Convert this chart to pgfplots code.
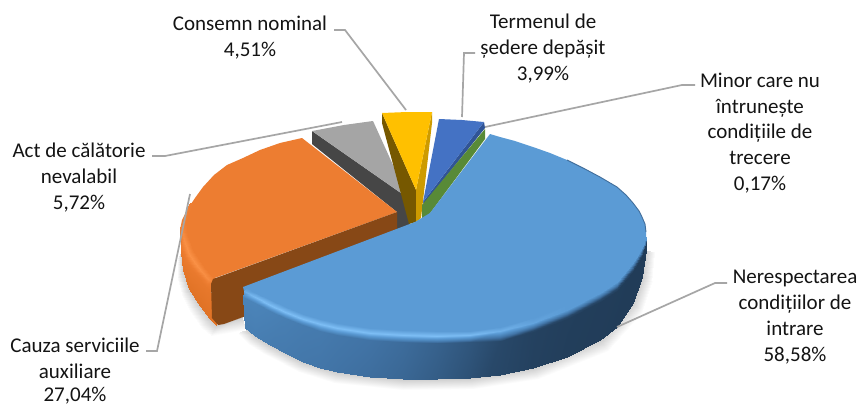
\documentclass[border=0pt]{standalone}
\usepackage{fontspec}
\setmainfont{Carlito}
\usepackage{pgfplots}
\pgfplotsset{compat=1.18}
\definecolor{cBlue}{RGB}{91,155,213}
\definecolor{cOrange}{RGB}{237,125,49}
\definecolor{cCut}{RGB}{135,72,22}
\definecolor{cGray}{RGB}{165,165,165}
\definecolor{cGrayD}{RGB}{70,70,70}
\definecolor{cYel}{RGB}{255,192,0}
\definecolor{cYelD}{RGB}{118,88,0}
\definecolor{cYelR}{RGB}{205,155,0}
\definecolor{cBl2}{RGB}{68,114,196}
\definecolor{cBl2D}{RGB}{48,84,150}
\definecolor{cGreen}{RGB}{88,138,55}
\definecolor{cLead}{RGB}{166,166,166}
\definecolor{cEdge}{RGB}{65,110,155}
\tikzset{lab/.style={anchor=base,text=black!92,font=\fontsize{21}{24}\selectfont}}
\begin{document}
\begin{tikzpicture}
\begin{axis}[
  width=861pt,height=405pt,scale only axis,
  xmin=0,xmax=861,ymin=0,ymax=405,y dir=reverse,
  hide axis,clip=false,
  point meta min=0,point meta max=500,
  colormap={pie}{rgb255(0)=(33,60,88) rgb255(25)=(40,72,105) rgb255(50)=(65,115,165) rgb255(62)=(75,132,185) rgb255(80)=(91,155,213) rgb255(100)=(125,190,245)
    rgb255(200)=(205,105,30) rgb255(250)=(225,115,38) rgb255(280)=(237,125,49) rgb255(300)=(250,145,70)
    rgb255(400)=(205,205,205) rgb255(500)=(255,255,255)},
]
% page
\addplot[draw=none,fill=white] coordinates {(0,0)(861,0)(861,405)(0,405)} --cycle;
% shadows
\addplot[surf,shader=interp,mesh/cols=2,point meta=explicit] table[meta=c] {
x y c
245 328 400
238 334 500
255 336 400
248 344 500
270 345 400
264 354 500
303 362 400
299 372 500
337 372 400
334 383 500
403 379 400
403 390 500
470 378 400
473 389 500
533 368 400
538 379 500
600 340 400
608 351 500
633 303 400
642 313 500
642 277 400
652 283 500
645 250 400
655 252 500
};
\addplot[surf,shader=interp,mesh/cols=2,point meta=explicit] table[meta=c] {
x y c
181 252 400
177 260 500
183 270 400
177 279 500
189 289 400
182 297 500
198 303 400
190 312 500
209 318 400
201 328 500
216 325 400
211 336 500
242 317 400
245 330 500
};
% gray slice
\addplot[draw=none,fill=cGrayD] coordinates {(312,131)(408,198)(410,226)(397,232)(397,212)(312,144)} --cycle;
\addplot[draw=none,fill=cGray] coordinates {(312,131)(344,125)(373,121)(408,198)} --cycle;
% yellow slice
\addplot[draw=none,fill=cYelD] coordinates {(382,113)(382,123)(409,224)(416,222)(416,190)} --cycle;
\addplot[draw=none,fill=cYelR] coordinates {(432,112)(432,123)(421,218)(416,222)(416,190)} --cycle;
\addplot[draw=none,fill=cYel] coordinates {(382,113)(407,112)(432,112)(416,190)} --cycle;
% small blue slice
\addplot[draw=none,fill=cBl2D] coordinates {(484,122)(485,128)(424,204)(423,202)} --cycle;
\addplot[draw=none,fill=cBl2] coordinates {(439,119)(462,120)(484,122)(423,202)} --cycle;
% green slice
\addplot[draw=none,fill=cGreen] coordinates {(485,129)(485,139)(428,216)(422,219)(422,205)} --cycle;
% orange slice
\addplot[draw=none,fill=cOrange] coordinates {(302,138)(280,143)(260,150)(243,158)(227,165)(214,175)(203,187)(195,198)(187,210)(182,220)(180,230)(181,245)(189,254)(195,263)(202,272)(212,279)(397,212)} --cycle;
\addplot[surf,shader=interp,mesh/cols=4,point meta=explicit] table[meta=c] {
x y c
194 203 280
190 203 282
189 204 282
188 206 282
186 222 280
181 225 290
180 228 285
180 230 282
188 236 280
184 240 298
181 245 280
181 252 268
193 250 280
189 254 300
185 259 275
183 270 258
199 259 280
195 263 300
191 269 270
189 289 250
205 268 280
202 272 298
199 278 268
198 303 248
211 275 280
208 279 295
206 287 266
209 318 248
214 278 280
212 281 290
210 290 265
216 325 250
};
\addplot[draw=none,fill=cCut] coordinates {(397,212)(213,279)(211,284)(212,318)(218,325)(224,324)(246,316)(246,287)(397,232)} --cycle;
% big blue slice
\addplot[draw=none,fill=cBlue] coordinates {(243,287)(415,222)(430,213)(490,134)(500,137)(515,141)(533,147)(550,153)(567,160)(585,169)(600,177)(617,187)(626,195)(633,203)(639,211)(642,217)(645,224)(646,232)(646,238)(641,250)(632,264)(617,282)(600,293)(567,310)(533,323)(500,331)(470,335)(437,336)(403,335)(370,333)(337,328)(303,319)(285,312)(270,305)(255,297)(244,291)} --cycle;
\addplot[surf,shader=interp,mesh/cols=4,point meta=explicit] table[meta=c] {
x y c
247 288 80
244 291 90
243 297 62
245 328 58
256 293 80
255 297 98
255 303 62
255 336 58
271 300 80
270 305 100
270 311 60
270 345 56
286 307 80
285 312 100
285 318 58
285 353 55
303 314 80
303 319 100
303 325 56
303 362 53
320 319 80
320 324 100
320 331 55
320 368 52
337 323 80
337 328 100
337 335 53
337 372 50
370 328 80
370 333 100
370 340 50
370 377 47
403 330 80
403 335 100
403 342 46
403 379 43
437 331 80
437 336 100
437 343 40
437 379 37
470 331 80
470 335 98
470 342 33
470 378 30
500 327 80
500 331 92
500 341 25
500 375 22
533 318 80
533 323 85
533 332 12
533 368 10
567 305 80
567 310 80
567 319 6
567 357 4
600 288 80
600 293 80
600 302 3
600 340 2
617 277 80
617 282 80
617 291 2
617 327 0
631 259 80
632 264 80
633 272 0
633 303 0
639 246 80
641 250 80
642 257 0
642 277 0
644 233 80
646 238 80
646 244 0
645.5 250 0
};
\addplot[cEdge,line width=0.9pt] coordinates {(567,160)(585,169)(600,177)(617,187)(626,195)(633,203)(639,211)(642,217)(645,224)(646,232)};
% leader lines
\addplot[cLead,line width=1.7pt] coordinates {(334,30)(345,30)(406,110)};
\addplot[cLead,line width=1.7pt] coordinates {(475,53)(464,53)(462,117)};
\addplot[cLead,line width=1.7pt] coordinates {(695,85)(682,85)(485,127)};
\addplot[cLead,line width=1.7pt] coordinates {(152,156)(165,156)(342,122)};
\addplot[cLead,line width=1.7pt] coordinates {(146,351)(157,351)(190,194)};
\addplot[cLead,line width=1.7pt] coordinates {(727,283)(715,283)(617,327)};
% labels
\node[lab] at (axis cs:250,30) {Consemn nominal};
\node[lab] at (axis cs:250,56) {4,51\%};
\node[lab] at (axis cs:543,28) {Termenul de};
\node[lab] at (axis cs:543,54) {ședere depășit};
\node[lab] at (axis cs:543,80) {3,99\%};
\node[lab] at (axis cs:760,87) {Minor care nu};
\node[lab] at (axis cs:760,113) {întrunește};
\node[lab] at (axis cs:760,138) {condițiile de};
\node[lab] at (axis cs:760,164) {trecere};
\node[lab] at (axis cs:760,190) {0,17\%};
\node[lab] at (axis cs:79,157) {Act de călătorie};
\node[lab] at (axis cs:79,183) {nevalabil};
\node[lab] at (axis cs:79,209) {5,72\%};
\node[lab] at (axis cs:75,352) {Cauza serviciile};
\node[lab] at (axis cs:75,378) {auxiliare};
\node[lab,overlay] at (axis cs:75,401) {27,04\%};
\node[lab] at (axis cs:795,283) {Nerespectarea};
\node[lab] at (axis cs:795,309) {condițiilor de};
\node[lab] at (axis cs:795,335) {intrare};
\node[lab] at (axis cs:795,361) {58,58\%};
\end{axis}
\end{tikzpicture}
\end{document}
